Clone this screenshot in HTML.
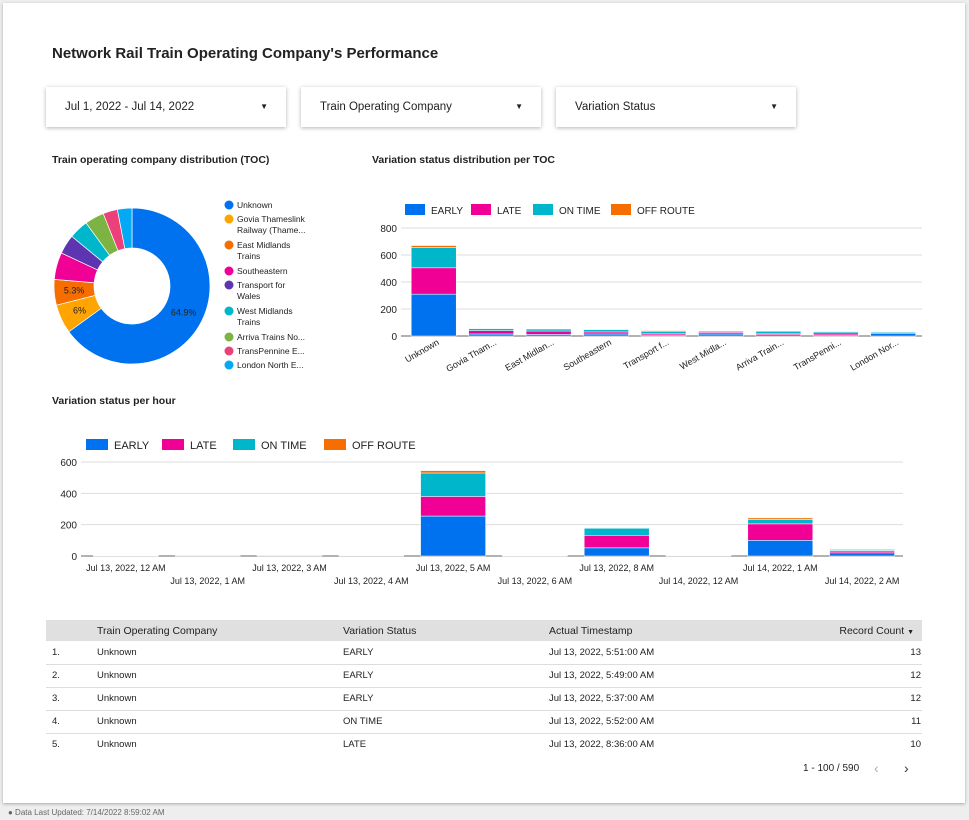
<!DOCTYPE html>
<html><head><meta charset="utf-8"><style>
body{margin:0;width:969px;height:820px;background:#eeeeee;font-family:"Liberation Sans",sans-serif;position:relative;overflow:hidden;color:#222}
.card{position:absolute;left:3px;top:3px;width:962px;height:800px;background:#fff;box-shadow:0 1px 3px rgba(0,0,0,.3)}
.abs{position:absolute}
.title{left:52px;top:45px;font-size:15px;font-weight:bold;color:#222}
.filter{top:87px;width:240px;height:40px;background:#fff;box-shadow:0 1px 4px rgba(0,0,0,.3);font-size:11.5px;line-height:40px;box-sizing:border-box;padding-left:19px}
.filter span{position:absolute;right:18px;top:0;font-size:8px}
.h{font-size:10.5px;font-weight:bold}
table{border-collapse:collapse;font-size:9.5px}
svg text{font-family:"Liberation Sans",sans-serif}
</style></head><body>
<div class="card"></div>
<div class="abs title">Network Rail Train Operating Company's Performance</div>
<div class="abs filter" style="left:46px">Jul 1, 2022 - Jul 14, 2022<span>▼</span></div>
<div class="abs filter" style="left:301px">Train Operating Company<span>▼</span></div>
<div class="abs filter" style="left:556px">Variation Status<span>▼</span></div>
<div class="abs h" style="left:52px;top:154px">Train operating company distribution (TOC)</div>
<div class="abs h" style="left:372px;top:154px">Variation status distribution per TOC</div>
<div class="abs h" style="left:52px;top:395px">Variation status per hour</div>

<svg class="abs" style="left:0;top:0" width="969" height="620" id="charts"></svg>

<div class="abs" style="left:46px;top:620px;width:876px">
<table style="width:876px">
<tr style="background:#e0e0e0;height:21px;font-size:10.5px"><td style="width:48px"></td><td style="width:244px">Train Operating Company</td><td style="width:204px">Variation Status</td><td>Actual Timestamp</td><td style="text-align:right;padding-right:8px">Record Count <span style="font-size:7px">▼</span></td></tr>
<tr style="height:23px;border-bottom:1px solid #ddd"><td style="padding-left:6px">1.</td><td>Unknown</td><td>EARLY</td><td>Jul 13, 2022, 5:51:00 AM</td><td style="text-align:right">13</td></tr>
<tr style="height:23px;border-bottom:1px solid #ddd"><td style="padding-left:6px">2.</td><td>Unknown</td><td>EARLY</td><td>Jul 13, 2022, 5:49:00 AM</td><td style="text-align:right">12</td></tr>
<tr style="height:23px;border-bottom:1px solid #ddd"><td style="padding-left:6px">3.</td><td>Unknown</td><td>EARLY</td><td>Jul 13, 2022, 5:37:00 AM</td><td style="text-align:right">12</td></tr>
<tr style="height:23px;border-bottom:1px solid #ddd"><td style="padding-left:6px">4.</td><td>Unknown</td><td>ON TIME</td><td>Jul 13, 2022, 5:52:00 AM</td><td style="text-align:right">11</td></tr>
<tr style="height:23px"><td style="padding-left:6px">5.</td><td>Unknown</td><td>LATE</td><td>Jul 13, 2022, 8:36:00 AM</td><td style="text-align:right">10</td></tr>
</table></div>
<div class="abs" style="left:803px;top:763px;font-size:10px">1 - 100 / 590</div>
<div class="abs" style="left:874px;top:760px;font-size:14px;color:#aaa">‹</div>
<div class="abs" style="left:904px;top:760px;font-size:14px;color:#333">›</div>
<div class="abs" style="left:8px;top:808px;font-size:8px;color:#666">● Data Last Updated: 7/14/2022 8:59:02 AM</div>

<script>
const tocNames=["Unknown","Govia Thameslink Railway (Thame...","East Midlands Trains","Southeastern","Transport for Wales","West Midlands Trains","Arriva Trains No...","TransPennine E...","London North E..."];
const tocShares=[64.9,6,5.3,5.6,4,4,4,3,3];
const tocShareLabels=["64.9%","6%","5.3%","","","","","",""];
const tocColors=["#0072f0","#ffa400","#f66d00","#f10096","#5e35b1","#00b6cb","#7cb342","#ec407a","#03a9f4"];
const tocShort=["Unknown","Govia Tham...","East Midlan...","Southeastern","Transport f...","West Midla...","Arriva Train...","TransPenni...","London Nor..."];
const tocEarly=[310,15,12,15,8,15,10,8,20];
const tocLate=[195,25,25,15,12,12,10,15,3];
const tocOnTime=[150,15,15,18,15,8,15,10,7];
const tocOffRoute=[15,3,2,2,5,2,2,3,0];
const hours=["Jul 13, 2022, 12 AM","Jul 13, 2022, 1 AM","Jul 13, 2022, 3 AM","Jul 13, 2022, 4 AM","Jul 13, 2022, 5 AM","Jul 13, 2022, 6 AM","Jul 13, 2022, 8 AM","Jul 14, 2022, 12 AM","Jul 14, 2022, 1 AM","Jul 14, 2022, 2 AM"];
const hrEarly=[1,1,1,2,255,1,52,2,100,20];
const hrLate=[1,0,0,0,125,1,80,0,105,12];
const hrOnTime=[0,0,0,1,150,0,45,1,28,5];
const hrOffRoute=[0,0,0,0,15,0,3,0,10,5];
const statusNames=["EARLY","LATE","ON TIME","OFF ROUTE"];
const statusColors=["#0072f0","#f10096","#00b6cb","#f66d00"];

const svg=document.getElementById('charts');const NS="http://www.w3.org/2000/svg";
function mk(t,a,txt){const e=document.createElementNS(NS,t);for(const k in a)e.setAttribute(k,a[k]);if(txt!==undefined)e.textContent=txt;svg.appendChild(e);return e;}

const cx=132,cy=286,R=78,r=38;const tot=tocShares.reduce((a,b)=>a+b,0);let ang=0;
tocShares.forEach((v,i)=>{const a0=ang,a1=ang+v/tot*2*Math.PI;ang=a1;
 const p=(a,rr)=>[cx+rr*Math.sin(a),cy-rr*Math.cos(a)];const lg=a1-a0>Math.PI?1:0;
 const [x0,y0]=p(a0,R),[x1,y1]=p(a1,R),[x2,y2]=p(a1,r),[x3,y3]=p(a0,r);
 const e=mk('path',{d:`M${x0},${y0}A${R},${R} 0 ${lg} 1 ${x1},${y1}L${x2},${y2}A${r},${r} 0 ${lg} 0 ${x3},${y3}Z`,fill:tocColors[i],stroke:'#fff','stroke-width':0.7});
 
 
 if(tocShareLabels[i]){const [lx,ly]=p((a0+a1)/2,(R+r)/2);const t=mk('text',{x:lx,y:ly+3,'font-size':9,'text-anchor':'middle',fill:'#222'},tocShareLabels[i]);
 
 }
});
let ly=205;
tocNames.forEach((n,i)=>{const c=mk('circle',{cx:229,cy:ly,r:4.5,fill:tocColors[i]});
 
 
 let lines=[n];
 if(n=="Govia Thameslink Railway (Thame...")lines=["Govia Thameslink","Railway (Thame..."];
 if(n=="East Midlands Trains")lines=["East Midlands","Trains"];
 if(n=="Transport for Wales")lines=["Transport for","Wales"];
 if(n=="West Midlands Trains")lines=["West Midlands","Trains"];
 lines.forEach((l,j)=>{const t=mk('text',{x:237,y:ly+3+j*11,'font-size':8.5,fill:'#222'},l);
 
 });
 ly+=lines.length>1?26:14;});

function stacked(o){
 const {x0,x1,y0,yMax,ph,cats,series,bw,ticks,legendX,legendY,legendGap,fs}=o;
 const ys=v=>y0-v/yMax*ph;const band=(x1-x0)/cats.length;
 ticks.forEach(t=>{const l=mk('line',{x1:x0-4,x2:x1,y1:ys(t),y2:ys(t),stroke:t==0?'#666':'#ddd'});
  
  
  const tx=mk('text',{x:x0-8,y:ys(t)+4,'font-size':fs,'text-anchor':'end',fill:'#222'},t);
  
  });
 cats.forEach((c,i)=>{let acc=0;const bx=x0+band*i+(band-bw)/2;
  series.forEach((s,k)=>{const v=s[i];if(v<=0)return;const b=mk('rect',{x:bx,y:ys(acc+v),width:bw,height:ys(acc)-ys(acc+v),fill:statusColors[k],stroke:'#fff','stroke-width':0.5});acc+=v;
   
   });
 });
 let lx=legendX;statusNames.forEach((n,k)=>{const r=mk('rect',{x:lx,y:legendY-6,width:o.lw,height:11,fill:statusColors[k]});
  
  
  const t=mk('text',{x:lx+o.lw+6,y:legendY+4,'font-size':o.lfs,fill:'#222'},n);
  
  
  lx+=legendGap[k];});
 return {band,ys};
}
const c2=stacked({x0:405,x1:922,y0:336,yMax:800,ph:108,cats:tocShort,series:[tocEarly,tocLate,tocOnTime,tocOffRoute],bw:45,ticks:[0,200,400,600,800],legendX:405,legendY:210,legendGap:[66,62,78,90],lw:20,lfs:10,fs:10});
tocShort.forEach((c,i)=>{const x=405+c2.band*(i+0.5)+6;const t=mk('text',{x:x,y:344,'font-size':9,'text-anchor':'end',fill:'#222',transform:`rotate(-30 ${x} 344)`},c);
 
 });
const c3=stacked({x0:85,x1:903,y0:556,yMax:600,ph:94,cats:hours,series:[hrEarly,hrLate,hrOnTime,hrOffRoute],bw:65,ticks:[0,200,400,600],legendX:86,legendY:445,legendGap:[76,71,91,90],lw:22,lfs:11,fs:10});
hours.forEach((h,i)=>{const x=85+c3.band*(i+0.5);const t=mk('text',{x:x,y:i%2?584:571,'font-size':9,'text-anchor':'middle',fill:'#222'},h);
 
 });
</script>
</body></html>
